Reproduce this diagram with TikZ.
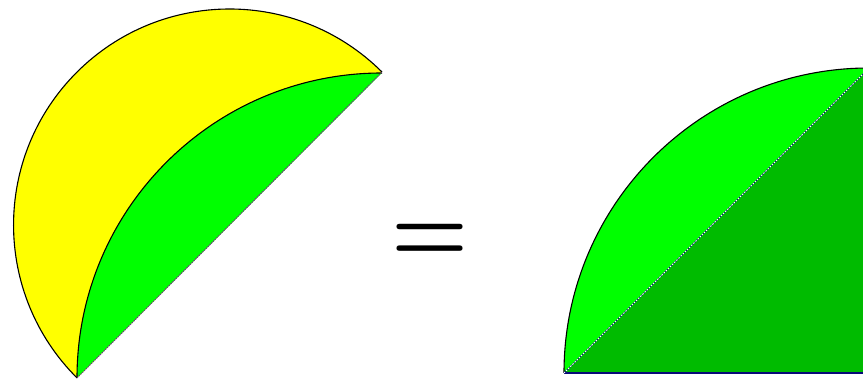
\documentclass[tikz,border=0pt]{standalone}
\definecolor{lyellow}{RGB}{255,255,0}
\definecolor{lgreen}{RGB}{0,255,0}
\definecolor{dgreen}{RGB}{0,187,0}
\definecolor{chordpurple}{RGB}{110,60,130}
\definecolor{navyline}{RGB}{10,10,120}
\tikzset{
  outline/.style={draw=black, line width=1.1pt},
  chordline/.style={draw=chordpurple, line width=1pt, dash pattern=on 1.5pt off 1pt},
}
\begin{document}
\begin{tikzpicture}[x=1pt,y=1pt]
\useasboundingbox (0,0) rectangle (863,382);
\clip (0,0) rectangle (863,382);
% left figure: lune
\coordinate (A) at (77,4);
\coordinate (B) at (382,310);
\coordinate (C) at (382,4);
\fill[lyellow] (B) arc[start angle=45.1, end angle=225.1, radius=216] -- cycle;
\draw[outline] (B) arc[start angle=45.1, end angle=225.1, radius=216];
\fill[lgreen] (A) arc[start angle=180, end angle=90, radius=305] -- cycle;
\draw[outline] (A) arc[start angle=180, end angle=90, radius=305];
\draw[chordline] (A) -- (B);
% equal sign
\node[anchor=base, inner sep=0pt] (eq) at (430,119.5) {\fontsize{99}{99}\selectfont\bfseries\scalebox{0.89}[1]{=}};
% right figure: quarter circle
\coordinate (P) at (564,9);
\coordinate (D) at (869,9);
\coordinate (Q) at (869,314);
\fill[lgreen] (P) arc[start angle=180, end angle=90, radius=305] -- (D) -- cycle;
\fill[dgreen] (P) -- (Q) -- (D) -- cycle;
\draw[outline] (P) arc[start angle=180, end angle=90, radius=305];
\draw[navyline, line width=1.6pt] (P) -- (D);
\draw[navyline, line width=1pt] (P) -- (Q);
\draw[white, line width=1pt, dash pattern=on 1.5pt off 1.5pt] (P) -- (Q);
\end{tikzpicture}
\end{document}
